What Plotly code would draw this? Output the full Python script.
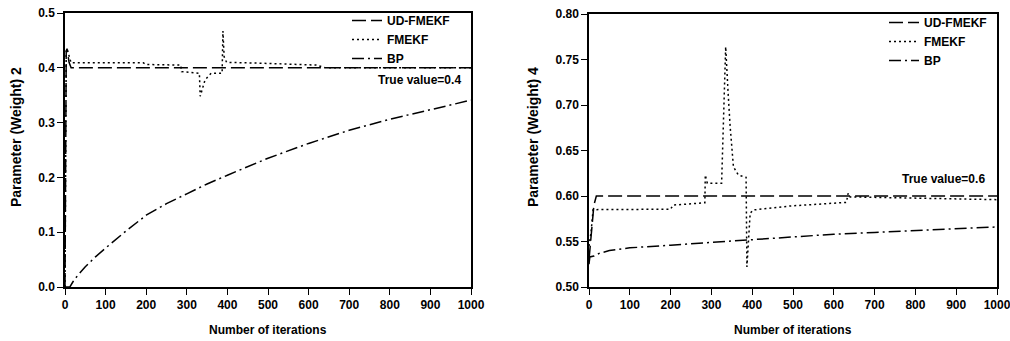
import plotly.graph_objects as go

# ---------------- data: left panel, Parameter (Weight) 2 ----------------
w2_ud_x = [0, 3, 5, 10, 15, 1000]
w2_ud_y = [0.0, 0.43, 0.435, 0.41, 0.40, 0.40]

w2_fm_x = [0, 3, 5, 15, 193, 200, 285, 287, 331, 333, 345, 360, 387, 389, 392, 398, 500, 620, 640, 1000]
w2_fm_y = [0.0, 0.43, 0.435, 0.409, 0.409, 0.406, 0.405, 0.393, 0.39, 0.348, 0.378, 0.39, 0.39, 0.467, 0.42, 0.41, 0.408, 0.405, 0.40, 0.40]

w2_bp_x = [0, 12, 20, 30, 50, 75, 100, 150, 200, 250, 300, 350, 400, 450, 500, 600, 700, 800, 900, 1000]
w2_bp_y = [0.0, 0.0, 0.010, 0.020, 0.037, 0.055, 0.071, 0.102, 0.131, 0.152, 0.170, 0.188, 0.204, 0.220, 0.235, 0.262, 0.286, 0.306, 0.324, 0.341]

# ---------------- data: right panel, Parameter (Weight) 4 ----------------
w4_ud_x = [0, 3, 6, 12, 18, 1000]
w4_ud_y = [0.53, 0.545, 0.555, 0.59, 0.60, 0.60]

w4_fm_x = [0, 5, 10, 200, 206, 284, 285, 290, 325, 333, 335, 341, 346, 354, 366, 385, 387, 395, 402, 493, 631, 635, 640, 1000]
w4_fm_y = [0.545, 0.56, 0.585, 0.5855, 0.590, 0.5926, 0.623, 0.614, 0.614, 0.749, 0.764, 0.713, 0.676, 0.632, 0.623, 0.6205, 0.522, 0.581, 0.5846, 0.589, 0.593, 0.603, 0.599, 0.596]

w4_bp_x = [0, 2, 12, 25, 50, 100, 200, 300, 400, 500, 600, 700, 800, 900, 1000]
w4_bp_y = [0.525, 0.533, 0.534, 0.537, 0.540, 0.543, 0.546, 0.549, 0.552, 0.555, 0.558, 0.560, 0.562, 0.564, 0.566]

series_names = ["UD-FMEKF", "FMEKF", "BP"]
x_ticks = [0, 100, 200, 300, 400, 500, 600, 700, 800, 900, 1000]
w2_ticks = [0.0, 0.1, 0.2, 0.3, 0.4, 0.5]
w4_ticks = [0.50, 0.55, 0.60, 0.65, 0.70, 0.75, 0.80]

FONT = "Liberation Sans, Arial, sans-serif"
dashes = ["14px,5px", "2px,3px", "12px,4px,2px,4px"]

# body margin is removed (see post_script), so figure fills the window
FW, FH = 1010, 341


def px(xp):
    return xp / FW


def py(yp):
    return 1 - yp / FH


fig = go.Figure()

left_sets = [(w2_ud_x, w2_ud_y), (w2_fm_x, w2_fm_y), (w2_bp_x, w2_bp_y)]
right_sets = [(w4_ud_x, w4_ud_y), (w4_fm_x, w4_fm_y), (w4_bp_x, w4_bp_y)]

for i, (xs, ys) in enumerate(left_sets):
    fig.add_trace(go.Scatter(x=xs, y=ys, mode="lines", name=series_names[i],
                             line=dict(color="black", width=1.5, dash=dashes[i]),
                             xaxis="x", yaxis="y", legend="legend"))
for i, (xs, ys) in enumerate(right_sets):
    fig.add_trace(go.Scatter(x=xs, y=ys, mode="lines", name=series_names[i],
                             line=dict(color="black", width=1.5, dash=dashes[i]),
                             xaxis="x2", yaxis="y2", legend="legend2"))

bold12 = dict(family=FONT, size=12, color="black", weight="bold")

axis_common = dict(showgrid=False, zeroline=False, showline=True, linecolor="black",
                   linewidth=1.5, mirror=True, ticks="outside", ticklen=6,
                   tickwidth=1.2, tickcolor="black", tickfont=bold12,
                   automargin=False, ticklabeloverflow="allow")

fig.update_layout(
    width=FW, height=FH,
    margin=dict(l=0, r=0, t=0, b=0, autoexpand=False),
    paper_bgcolor="white", plot_bgcolor="white",
    font=dict(family=FONT, size=12, color="black"),
    xaxis=dict(domain=[px(65), px(471)], range=[0, 1000], tickvals=x_ticks, anchor="y", **axis_common),
    yaxis=dict(domain=[py(287), py(13)], range=[0, 0.5], tickvals=w2_ticks, tickformat=".1f", anchor="x", **axis_common),
    xaxis2=dict(domain=[px(589), px(997)], range=[0, 1000], tickvals=x_ticks, anchor="y2", **axis_common),
    yaxis2=dict(domain=[py(287), py(14)], range=[0.5, 0.8], tickvals=w4_ticks, tickformat=".2f", anchor="x2", **axis_common),
    legend=dict(x=px(347), y=py(6), xanchor="left", yanchor="top", bgcolor="rgba(0,0,0,0)",
                font=bold12, tracegroupgap=0),
    legend2=dict(x=px(884), y=py(8), xanchor="left", yanchor="top", bgcolor="rgba(0,0,0,0)",
                 font=bold12, tracegroupgap=0),
    showlegend=True,
)

fig.add_annotation(text="Number of iterations", xref="paper", yref="paper",
                   x=px(268), y=py(330), showarrow=False, font=bold12, xanchor="center", yanchor="middle")
fig.add_annotation(text="Number of iterations", xref="paper", yref="paper",
                   x=px(793), y=py(330), showarrow=False, font=bold12, xanchor="center", yanchor="middle")
fig.add_annotation(text="Parameter (Weight) 2", xref="paper", yref="paper",
                   x=px(16), y=py(137), showarrow=False, textangle=-90,
                   font=dict(family=FONT, size=14, color="black", weight="bold"), xanchor="center", yanchor="middle")
fig.add_annotation(text="Parameter (Weight) 4", xref="paper", yref="paper",
                   x=px(533), y=py(137), showarrow=False, textangle=-90,
                   font=dict(family=FONT, size=14, color="black", weight="bold"), xanchor="center", yanchor="middle")
fig.add_annotation(text="True value=0.4", xref="paper", yref="paper",
                   x=px(463), y=py(80), showarrow=False, font=bold12, xanchor="right", yanchor="middle")
fig.add_annotation(text="True value=0.6", xref="paper", yref="paper",
                   x=px(987), y=py(179), showarrow=False, font=bold12, xanchor="right", yanchor="middle")

fig.write_html("out.html",
               config={"displayModeBar": False},
               post_script="document.body.style.margin='0px';document.body.style.overflow='hidden';")
